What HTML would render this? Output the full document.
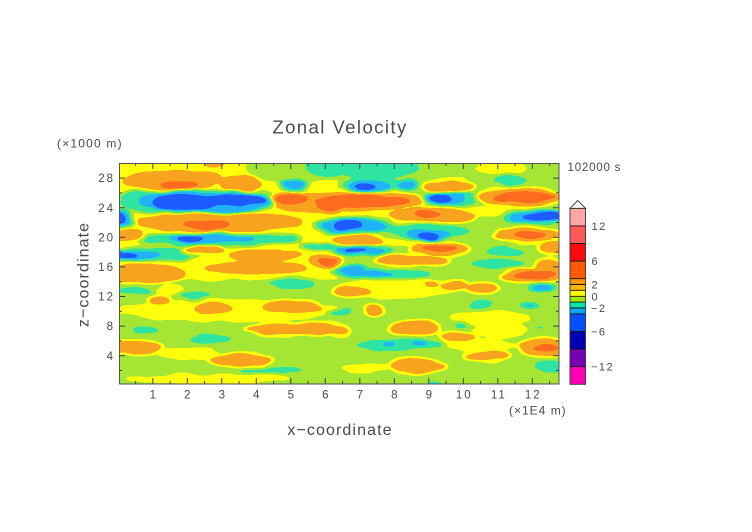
<!DOCTYPE html>
<html><head><meta charset="utf-8"><style>
html,body{margin:0;padding:0;background:#fff;}
svg{display:block;}
text{font-family:"Liberation Sans",sans-serif;fill:#4a4a4a;}
</style></head><body>
<svg width="752" height="532" viewBox="0 0 752 532" xmlns="http://www.w3.org/2000/svg">
<defs>
<filter id="f" x="95" y="135" width="490" height="270" filterUnits="userSpaceOnUse" color-interpolation-filters="sRGB">
<feTurbulence type="fractalNoise" baseFrequency="0.035 0.11" numOctaves="2" seed="7" result="n"/>
<feDisplacementMap in="SourceGraphic" in2="n" scale="7" xChannelSelector="R" yChannelSelector="G" result="d"/>
<feGaussianBlur in="d" stdDeviation="3.2 1.4"/>
<feComponentTransfer>
<feFuncR type="discrete" tableValues="1 1 1 .47 .47 .47 .08 .08 .08 .12 .12 .12 .13 .18 .65 1 .97 .97 1 1 1 1 1 1 1 1 1 1 1 1"/>
<feFuncG type="discrete" tableValues="0 0 0 0 0 0 .08 .08 .08 .36 .36 .36 .7 .9 .9 1 .64 .64 .42 .42 .42 0 0 0 .35 .35 .35 .67 .67 .67"/>
<feFuncB type="discrete" tableValues=".67 .67 .67 .7 .7 .7 .75 .75 .75 1 1 1 1 .63 .2 .05 .12 .12 .12 .12 .12 0 0 0 .35 .35 .35 .67 .67 .67"/>
</feComponentTransfer>
</filter>
<clipPath id="c"><rect x="119" y="163" width="440" height="221"/></clipPath>
<g id="gT">
<ellipse cx="330" cy="167" rx="25" ry="11"/>
<ellipse cx="200" cy="202" rx="82" ry="13"/>
<ellipse cx="140" cy="196" rx="22" ry="5"/>
<ellipse cx="215" cy="239" rx="85" ry="6.5"/>
<ellipse cx="155" cy="254" rx="45" ry="7"/>
<ellipse cx="320" cy="247" rx="20" ry="4"/>
<ellipse cx="122" cy="218" rx="10" ry="10"/>
<ellipse cx="375" cy="169" rx="45" ry="10"/>
<ellipse cx="372" cy="185" rx="30" ry="8"/>
<ellipse cx="510" cy="180" rx="16" ry="5"/>
<ellipse cx="450" cy="199" rx="30" ry="8"/>
<ellipse cx="535" cy="217" rx="32" ry="8"/>
<ellipse cx="355" cy="226" rx="40" ry="9"/>
<ellipse cx="428" cy="231" rx="42" ry="7"/>
<ellipse cx="362" cy="251" rx="32" ry="6"/>
<ellipse cx="505" cy="252" rx="20" ry="5"/>
<ellipse cx="350" cy="270" rx="18" ry="5"/>
<ellipse cx="498" cy="264" rx="27" ry="5"/>
<ellipse cx="385" cy="274" rx="47" ry="4.5"/>
<ellipse cx="292" cy="284" rx="24" ry="6"/>
<ellipse cx="135" cy="291" rx="20" ry="4"/>
<ellipse cx="195" cy="295" rx="17" ry="4"/>
<ellipse cx="146" cy="330" rx="15" ry="4"/>
<ellipse cx="211" cy="339" rx="20" ry="5"/>
<ellipse cx="272" cy="370" rx="33" ry="3.5"/>
<ellipse cx="120" cy="380" rx="5" ry="3"/>
<ellipse cx="335" cy="313" rx="8" ry="3"/>
<ellipse cx="543" cy="288" rx="15" ry="5"/>
<ellipse cx="480" cy="304" rx="12" ry="5"/>
<ellipse cx="460" cy="325" rx="6" ry="3"/>
<ellipse cx="400" cy="345" rx="44" ry="5.5"/>
<ellipse cx="548" cy="366" rx="16" ry="6"/>
<ellipse cx="434" cy="383" rx="8" ry="3"/>
<ellipse cx="345" cy="311" rx="8" ry="3"/>
<ellipse cx="540" cy="328" rx="6" ry="2"/>
</g>
<g id="gO">
<ellipse cx="172" cy="180" rx="48" ry="9"/>
<ellipse cx="240" cy="184" rx="19" ry="8"/>
<ellipse cx="215" cy="164" rx="10" ry="3"/>
<ellipse cx="310" cy="202" rx="40" ry="10"/>
<ellipse cx="218" cy="222" rx="82" ry="9"/>
<ellipse cx="128" cy="235" rx="14" ry="5"/>
<ellipse cx="205" cy="249" rx="20" ry="3"/>
<ellipse cx="265" cy="256" rx="35" ry="6"/>
<ellipse cx="145" cy="273" rx="38" ry="9"/>
<ellipse cx="255" cy="268" rx="50" ry="6"/>
<ellipse cx="325" cy="260" rx="15" ry="6"/>
<ellipse cx="448" cy="187" rx="23" ry="6"/>
<ellipse cx="362" cy="201" rx="60" ry="9"/>
<ellipse cx="520" cy="197" rx="42" ry="8"/>
<ellipse cx="432" cy="215" rx="42" ry="6.5"/>
<ellipse cx="357" cy="240" rx="25" ry="5"/>
<ellipse cx="528" cy="235" rx="33" ry="6"/>
<ellipse cx="440" cy="249" rx="28" ry="5.5"/>
<ellipse cx="552" cy="248" rx="12" ry="5"/>
<ellipse cx="413" cy="260" rx="35" ry="4.5"/>
<ellipse cx="550" cy="266" rx="14" ry="6"/>
<ellipse cx="532" cy="276" rx="30" ry="5.5"/>
<ellipse cx="160" cy="300" rx="9" ry="3"/>
<ellipse cx="213" cy="309" rx="18" ry="6"/>
<ellipse cx="293" cy="307" rx="28" ry="6"/>
<ellipse cx="295" cy="329" rx="50" ry="5"/>
<ellipse cx="135" cy="348" rx="25" ry="6"/>
<ellipse cx="240" cy="360" rx="30" ry="5"/>
<ellipse cx="453" cy="285" rx="12" ry="4"/>
<ellipse cx="430" cy="284" rx="5" ry="3"/>
<ellipse cx="482" cy="288" rx="14" ry="4"/>
<ellipse cx="352" cy="292" rx="18" ry="4"/>
<ellipse cx="374" cy="310" rx="7" ry="5"/>
<ellipse cx="415" cy="328" rx="24" ry="6"/>
<ellipse cx="340" cy="331" rx="8" ry="4"/>
<ellipse cx="458" cy="337" rx="17" ry="3.5"/>
<ellipse cx="545" cy="347" rx="25" ry="8"/>
<ellipse cx="486" cy="356" rx="22" ry="4"/>
<ellipse cx="418" cy="366" rx="27" ry="6"/>
</g>
<g id="gLB">
<ellipse cx="205" cy="202" rx="68" ry="10"/>
<ellipse cx="293" cy="185" rx="13" ry="4.5"/>
<ellipse cx="121" cy="218" rx="10" ry="7"/>
<ellipse cx="210" cy="239" rx="45" ry="4"/>
<ellipse cx="135" cy="255" rx="25" ry="4.5"/>
<ellipse cx="370" cy="186" rx="22" ry="5.5"/>
<ellipse cx="408" cy="185" rx="10" ry="4"/>
<ellipse cx="445" cy="199" rx="20" ry="5"/>
<ellipse cx="537" cy="217" rx="28" ry="6"/>
<ellipse cx="355" cy="226" rx="33" ry="6.5"/>
<ellipse cx="430" cy="234" rx="22" ry="4"/>
<ellipse cx="360" cy="251" rx="25" ry="3.5"/>
<ellipse cx="350" cy="270" rx="13" ry="3"/>
<ellipse cx="370" cy="274" rx="25" ry="2.5"/>
<ellipse cx="543" cy="288" rx="10" ry="3"/>
<ellipse cx="388" cy="344" rx="7" ry="2.5"/>
<ellipse cx="420" cy="344" rx="8" ry="2.5"/>
<ellipse cx="530" cy="305" rx="7" ry="2"/>
</g>
<g id="gOR">
<ellipse cx="180" cy="185" rx="18" ry="3.5"/>
<ellipse cx="292" cy="199" rx="16" ry="4.5"/>
<ellipse cx="207" cy="225" rx="22" ry="4.5"/>
<ellipse cx="328" cy="261" rx="10" ry="3.5"/>
<ellipse cx="362" cy="201" rx="48" ry="6"/>
<ellipse cx="330" cy="205" rx="14" ry="5"/>
<ellipse cx="525" cy="197" rx="32" ry="4.5"/>
<ellipse cx="428" cy="214" rx="12" ry="3.5"/>
<ellipse cx="530" cy="235" rx="15" ry="3.5"/>
<ellipse cx="440" cy="249" rx="18" ry="3.5"/>
<ellipse cx="535" cy="275" rx="22" ry="3.5"/>
<ellipse cx="545" cy="348" rx="12" ry="3.5"/>
</g>
<g id="gB">
<ellipse cx="185" cy="203" rx="32" ry="7"/>
<ellipse cx="235" cy="200" rx="32" ry="5"/>
<ellipse cx="119" cy="218" rx="6" ry="4.5"/>
<ellipse cx="190" cy="239" rx="12" ry="2.5"/>
<ellipse cx="125" cy="255" rx="12" ry="2.5"/>
<ellipse cx="366" cy="186" rx="9" ry="3"/>
<ellipse cx="441" cy="199" rx="10" ry="3"/>
<ellipse cx="543" cy="217" rx="20" ry="4"/>
<ellipse cx="348" cy="226" rx="12" ry="4"/>
<ellipse cx="428" cy="236" rx="8" ry="2.5"/>
<ellipse cx="355" cy="251" rx="10" ry="2"/>
</g>
</defs>

<rect x="0" y="0" width="752" height="532" fill="#fff"/>

<g clip-path="url(#c)">
<g filter="url(#f)">
<rect x="90" y="130" width="500" height="280" fill="#7b7b7b"/>
<g fill="#848484">
<rect x="90" y="150" width="248" height="130"/>
<ellipse cx="500" cy="168" rx="25" ry="7"/>
<rect x="338" y="207" width="230" height="9"/>
<ellipse cx="230" cy="310" rx="115" ry="11"/>
<ellipse cx="190" cy="354" rx="30" ry="6"/>
<ellipse cx="200" cy="379" rx="90" ry="5"/>
<ellipse cx="400" cy="288" rx="62" ry="11"/>
<ellipse cx="490" cy="318" rx="40" ry="7"/>
<ellipse cx="500" cy="330" rx="28" ry="8"/>
<ellipse cx="480" cy="345" rx="35" ry="6"/>
<ellipse cx="365" cy="368" rx="25" ry="5"/>
<ellipse cx="170" cy="290" rx="13" ry="5"/>
<ellipse cx="400" cy="242" rx="25" ry="4"/>
</g>
<ellipse cx="295" cy="168" rx="48" ry="15" fill="#7b7b7b"/>
<use href="#gT" fill="#7b7b7b" stroke="#7b7b7b" stroke-width="4"/>
<use href="#gT" fill="#737373"/>
<use href="#gO" fill="#848484" stroke="#848484" stroke-width="6"/>
<use href="#gO" fill="#919191"/>
<use href="#gLB" fill="#737373" stroke="#737373" stroke-width="5"/>
<use href="#gLB" fill="#6a6a6a"/>
<use href="#gOR" fill="#919191" stroke="#919191" stroke-width="4"/>
<use href="#gOR" fill="#a6a6a6"/>
<use href="#gB" fill="#6a6a6a" stroke="#6a6a6a" stroke-width="3"/>
<use href="#gB" fill="#595959"/>
</g>
</g>

<!-- frame -->
<rect x="119.5" y="163.5" width="439.5" height="220.5" fill="none" stroke="#555" stroke-width="1"/>
<g stroke="#444" stroke-width="1" fill="none">
<path d="M152.8 384v-6M187.3 384v-6M221.8 384v-6M256.3 384v-6M290.8 384v-6M325.3 384v-6M359.8 384v-6M394.3 384v-6M428.8 384v-6M463.3 384v-6M497.8 384v-6M532.3 384v-6"/>
<path d="M152.8 163v6M187.3 163v6M221.8 163v6M256.3 163v6M290.8 163v6M325.3 163v6M359.8 163v6M394.3 163v6M428.8 163v6M463.3 163v6M497.8 163v6M532.3 163v6"/>
<path d="M135.6 384v-3M170.1 384v-3M204.6 384v-3M239.1 384v-3M273.6 384v-3M308.1 384v-3M342.6 384v-3M377.1 384v-3M411.6 384v-3M446.1 384v-3M480.6 384v-3M515.1 384v-3M549.6 384v-3"/>
<path d="M135.6 163v3M170.1 163v3M204.6 163v3M239.1 163v3M273.6 163v3M308.1 163v3M342.6 163v3M377.1 163v3M411.6 163v3M446.1 163v3M480.6 163v3M515.1 163v3M549.6 163v3"/>
<path d="M119 355.7h6M119 326.1h6M119 296.5h6M119 266.9h6M119 237.3h6M119 207.7h6M119 178.1h6"/>
<path d="M559 355.7h-6M559 326.1h-6M559 296.5h-6M559 266.9h-6M559 237.3h-6M559 207.7h-6M559 178.1h-6"/>
<path d="M119 370.5h3M119 340.9h3M119 311.3h3M119 281.7h3M119 252.1h3M119 222.5h3M119 192.9h3"/>
<path d="M559 370.5h-3M559 340.9h-3M559 311.3h-3M559 281.7h-3M559 252.1h-3M559 222.5h-3M559 192.9h-3"/>
</g>

<!-- title & labels -->
<text x="340" y="133.3" font-size="18.6" letter-spacing="1.4" text-anchor="middle" fill="#505050">Zonal Velocity</text>
<text x="57" y="147.5" font-size="12" letter-spacing="1.2">(×1000 m)</text>

<g font-size="11.5" letter-spacing="2" text-anchor="end">
<text x="115" y="182.2">28</text>
<text x="115" y="211.8">24</text>
<text x="115" y="241.4">20</text>
<text x="115" y="271">16</text>
<text x="115" y="300.6">12</text>
<text x="115" y="330.2">8</text>
<text x="115" y="359.8">4</text>
</g>
<g font-size="11.5" letter-spacing="2" text-anchor="middle">
<text x="153.8" y="398.5">1</text>
<text x="188.3" y="398.5">2</text>
<text x="222.8" y="398.5">3</text>
<text x="257.3" y="398.5">4</text>
<text x="291.8" y="398.5">5</text>
<text x="326.3" y="398.5">6</text>
<text x="360.8" y="398.5">7</text>
<text x="395.3" y="398.5">8</text>
<text x="429.8" y="398.5">9</text>
<text x="464.3" y="398.5">10</text>
<text x="498.8" y="398.5">11</text>
<text x="533.3" y="398.5">12</text>
</g>
<text x="509" y="414.5" font-size="12" letter-spacing="1">(×1E4 m)</text>
<text x="340" y="435" font-size="16" letter-spacing="1.1" text-anchor="middle">x−coordinate</text>
<text transform="translate(88.3,274.5) rotate(-90)" font-size="16" letter-spacing="1.1" text-anchor="middle">z−coordinate</text>
<text x="567.5" y="171" font-size="11.5" letter-spacing="0.8" fill="#888">102000 s</text>

<!-- colorbar -->
<g>
<rect x="570" y="208.3" width="15.5" height="17.6" fill="#ffa8a8"/>
<rect x="570" y="225.9" width="15.5" height="17.6" fill="#ff5a5a"/>
<rect x="570" y="243.5" width="15.5" height="17.6" fill="#ff0a0a"/>
<rect x="570" y="261.1" width="15.5" height="17.6" fill="#ff5a00"/>
<rect x="570" y="278.7" width="15.5" height="5.8" fill="#ff9600"/>
<rect x="570" y="284.5" width="15.5" height="5.8" fill="#ffb400"/>
<rect x="570" y="290.3" width="15.5" height="6" fill="#ffff00"/>
<rect x="570" y="296.3" width="15.5" height="5.8" fill="#a5e600"/>
<rect x="570" y="302.1" width="15.5" height="5.9" fill="#00e6a5"/>
<rect x="570" y="308" width="15.5" height="5.9" fill="#00aaff"/>
<rect x="570" y="313.9" width="15.5" height="17.6" fill="#0050ff"/>
<rect x="570" y="331.5" width="15.5" height="17.6" fill="#0000b4"/>
<rect x="570" y="349.1" width="15.5" height="17.6" fill="#7800b4"/>
<rect x="570" y="366.7" width="15.5" height="17.6" fill="#ff00b4"/>
<path d="M570 225.9h15.5M570 243.5h15.5M570 261.1h15.5M570 278.7h15.5M570 284.5h15.5M570 290.3h15.5M570 296.3h15.5M570 302.1h15.5M570 308h15.5M570 313.9h15.5M570 331.5h15.5M570 349.1h15.5M570 366.7h15.5" stroke="#111" stroke-width="0.9"/>
<rect x="570" y="208.3" width="15.5" height="176" fill="none" stroke="#333" stroke-width="0.9"/>
<path d="M570 208.3L577.75 200.5L585.5 208.3Z" fill="#fff" stroke="#333" stroke-width="0.9"/>
</g>
<g font-size="11" letter-spacing="1.5">
<text x="591.5" y="229.9">12</text>
<text x="591.5" y="265.1">6</text>
<text x="591.5" y="288.5">2</text>
<text x="591.5" y="300.3">0</text>
<text x="591" y="312">−2</text>
<text x="591" y="335.5">−6</text>
<text x="591" y="370.7">−12</text>
</g>
</svg>
</body></html>
